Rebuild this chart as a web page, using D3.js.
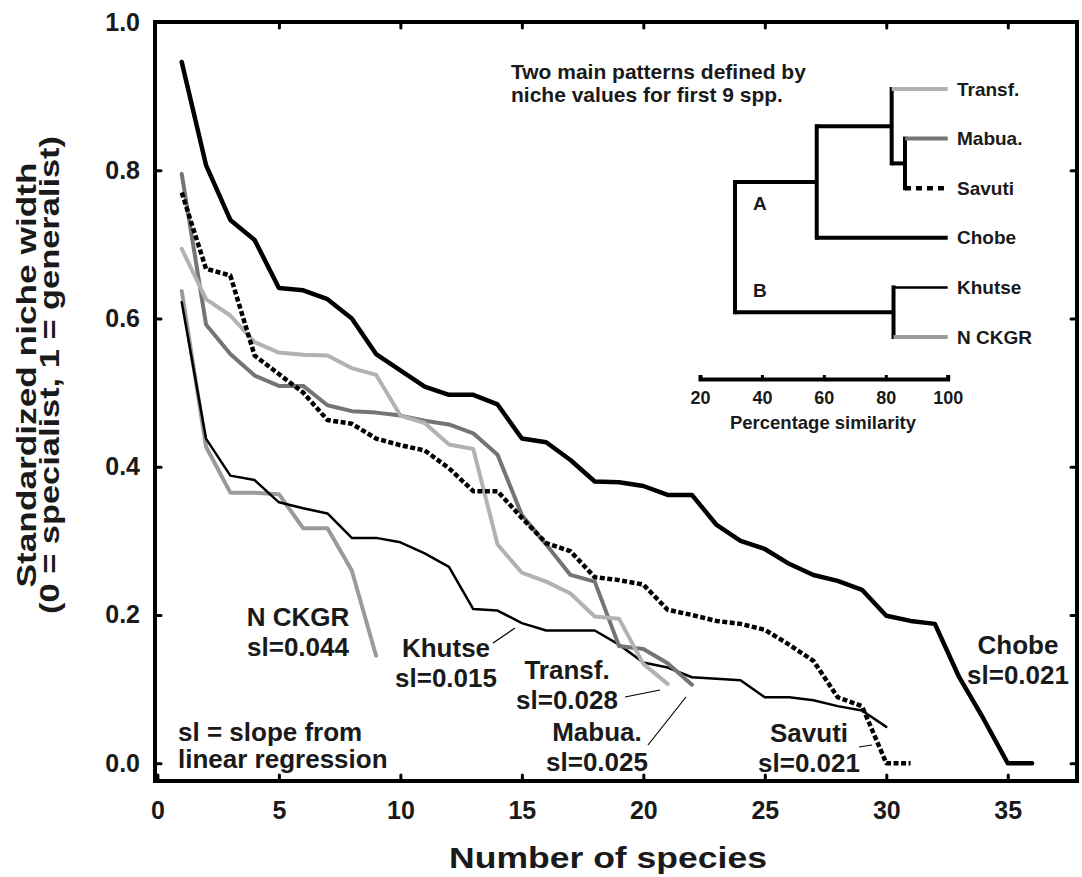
<!DOCTYPE html>
<html>
<head>
<meta charset="utf-8">
<script src="https://cdn.jsdelivr.net/npm/d3@7/dist/d3.min.js"></script>
<style>
body { margin: 0; background: #fff; }
text { font-family: "Liberation Sans", Arial, sans-serif; font-weight: bold; fill: #1a1a1a; }
</style>
</head>
<body>
<svg id="chart" width="1082" height="877"></svg>
<script>
// standardized niche width of species ranked 1..n, per site
var chobe  = [0.946,0.807,0.733,0.706,0.641,0.638,0.626,0.600,0.552,0.530,0.508,0.497,0.497,0.484,0.438,0.433,0.409,0.380,0.379,0.374,0.362,0.362,0.322,0.300,0.289,0.269,0.254,0.246,0.234,0.199,0.192,0.188,0.116,0.060,0.0,0.0];
var savuti = [0.770,0.667,0.658,0.550,0.525,0.500,0.463,0.458,0.438,0.429,0.422,0.398,0.367,0.367,0.331,0.297,0.286,0.251,0.247,0.241,0.207,0.200,0.192,0.188,0.180,0.160,0.138,0.089,0.077,0.0,0.0];
var mabua  = [0.795,0.592,0.552,0.523,0.509,0.509,0.483,0.475,0.473,0.469,0.462,0.457,0.445,0.416,0.335,0.295,0.254,0.245,0.158,0.154,0.135,0.106];
var transf = [0.694,0.626,0.604,0.568,0.554,0.551,0.550,0.533,0.524,0.469,0.459,0.430,0.424,0.295,0.257,0.245,0.229,0.198,0.195,0.134,0.107];
var khutse = [0.622,0.438,0.388,0.382,0.352,0.344,0.337,0.304,0.304,0.298,0.283,0.265,0.208,0.206,0.189,0.179,0.179,0.179,0.160,0.136,0.129,0.116,0.114,0.112,0.089,0.089,0.085,0.077,0.071,0.049];
var nckgr  = [0.637,0.427,0.365,0.365,0.363,0.317,0.317,0.260,0.145];

var xTicks = [0,5,10,15,20,25,30,35];
var yTicks = [0,0.2,0.4,0.6,0.8,1.0];

// dendrogram: leaf order and percentage similarity at each join
var leafNames = ["Transf.","Mabua.","Savuti","Chobe","Khutse","N CKGR"];
var simTicks = [20,40,60,80,100];
var cluster = {sim: 31.3, children: [
  {sim: 57.7, children: [
    {sim: 81.9, children: [
      {name: "Transf."},
      {sim: 86.2, children: [{name: "Mabua."}, {name: "Savuti"}]}
    ]},
    {name: "Chobe"}
  ]},
  {sim: 82.5, children: [{name: "Khutse"}, {name: "N CKGR"}]}
]};

var svg = d3.select('#chart');
var x = d3.scaleLinear().domain([-0.1, 37.85]).range([155, 1077]);
var y = d3.scaleLinear().domain([-0.024, 1.0]).range([781, 22]);

// ticks on all four sides, pointing in
function styleAxis(g){
  g.select(".domain").remove();
  g.selectAll(".tick line").attr("stroke", "#000").attr("stroke-width", 3).attr("stroke-linecap", "round");
  g.selectAll(".tick text").attr("font-size", 25).attr("fill", "#1a1a1a");
}
svg.append("g").attr("transform", "translate(0,781)")
  .call(d3.axisBottom(x).tickValues(xTicks).tickSize(-6).tickPadding(20).tickFormat(d3.format("d")))
  .call(styleAxis);
svg.append("g").attr("transform", "translate(0,22)")
  .call(d3.axisTop(x).tickValues(xTicks.slice(1)).tickSize(-6).tickFormat(""))
  .call(styleAxis);
svg.append("g").attr("transform", "translate(155,0)")
  .call(d3.axisLeft(y).tickValues(yTicks).tickSize(-6).tickPadding(15).tickFormat(d3.format(".1f")))
  .call(styleAxis);
svg.append("g").attr("transform", "translate(1077,0)")
  .call(d3.axisRight(y).tickValues(yTicks.slice(0, 5)).tickSize(-6).tickFormat(""))
  .call(styleAxis);

svg.append("rect").attr("x", 155).attr("y", 22).attr("width", 922).attr("height", 759)
  .attr("fill", "none").attr("stroke", "#000").attr("stroke-width", 4);

// axis titles
svg.append("text").attr("x", 608).attr("y", 857).attr("dy", "0.35em")
  .attr("text-anchor", "middle").attr("font-size", 30)
  .attr("textLength", 318).attr("lengthAdjust", "spacingAndGlyphs")
  .text("Number of species");
var yt = svg.append("g").attr("transform", "translate(0,375) rotate(-90)");
yt.append("text").attr("x", 0).attr("y", 27).attr("dy", "0.35em").attr("text-anchor", "middle")
  .attr("font-size", 27).attr("textLength", 425).attr("lengthAdjust", "spacingAndGlyphs")
  .text("Standardized niche width");
yt.append("text").attr("x", 0).attr("y", 50).attr("dy", "0.35em").attr("text-anchor", "middle")
  .attr("font-size", 27).attr("textLength", 478).attr("lengthAdjust", "spacingAndGlyphs")
  .text("(0 = specialist, 1 = generalist)");

// the curves
var line = d3.line().x(function(d, i){ return x(i + 1); }).y(function(d){ return y(d); });
var series = [
  {values: nckgr,  stroke: "#9a9a9a", width: 4},
  {values: khutse, stroke: "#000",    width: 2.5},
  {values: mabua,  stroke: "#747474", width: 4},
  {values: transf, stroke: "#b2b2b2", width: 4},
  {values: savuti, stroke: "#000",    width: 4.5, dash: "5,2.5"},
  {values: chobe,  stroke: "#000",    width: 4.5}
];
svg.selectAll(".curve").data(series).enter().append("path")
  .attr("class", "curve")
  .attr("d", function(d){ return line(d.values); })
  .attr("fill", "none")
  .attr("stroke", function(d){ return d.stroke; })
  .attr("stroke-width", function(d){ return d.width; })
  .attr("stroke-dasharray", function(d){ return d.dash || null; })
  .attr("stroke-linejoin", "round")
  .attr("stroke-linecap", function(d){ return d.dash ? "butt" : "round"; });

// curve labels
var labels = [
  {t: ["N CKGR", "sl=0.044"], x: 298, y: 617},
  {t: ["Khutse", "sl=0.015"], x: 446, y: 648},
  {t: ["Transf.", "sl=0.028"], x: 567, y: 670},
  {t: ["Mabua.", "sl=0.025"], x: 597, y: 732},
  {t: ["Savuti", "sl=0.021"], x: 809, y: 733},
  {t: ["Chobe", "sl=0.021"], x: 1018, y: 645}
];
labels.forEach(function(l){
  var tx = svg.append("text").attr("text-anchor", "middle").attr("font-size", 26);
  l.t.forEach(function(s, i){
    tx.append("tspan").attr("x", l.x).attr("y", l.y + i * 29.5).attr("dy", "0.35em").text(s);
  });
});
var leaders = [
  [[493,643],[515,628]],
  [[625,697],[660,690]],
  [[648,745],[686,697]],
  [[859,747],[872,745]]
];
svg.selectAll(".leader").data(leaders).enter().append("line")
  .attr("x1", function(d){ return d[0][0]; }).attr("y1", function(d){ return d[0][1]; })
  .attr("x2", function(d){ return d[1][0]; }).attr("y2", function(d){ return d[1][1]; })
  .attr("stroke", "#000").attr("stroke-width", 1.2);

var note = svg.append("text").attr("font-size", 26);
note.append("tspan").attr("x", 178).attr("y", 732).attr("dy", "0.35em").text("sl = slope from");
note.append("tspan").attr("x", 178).attr("y", 759).attr("dy", "0.35em").text("linear regression");

// inset dendrogram
var inset = svg.append("g");
var title = inset.append("text").attr("font-size", 21);
title.append("tspan").attr("x", 511).attr("y", 72).attr("dy", "0.35em").text("Two main patterns defined by");
title.append("tspan").attr("x", 511).attr("y", 95).attr("dy", "0.35em").text("niche values for first 9 spp.");

var sx = d3.scaleLinear().domain([20, 100]).range([700, 947.7]);
var ly = d3.scalePoint().domain(leafNames).range([89, 337]);
var root = d3.hierarchy(cluster);
root.eachAfter(function(n){
  if (n.children) n.py = d3.mean(n.children, function(c){ return c.py; });
  else n.py = ly(n.data.name);
  n.px = sx(n.children ? n.data.sim : 100);
});
var leafStyle = {
  "Transf.": {stroke: "#b2b2b2", width: 4},
  "Mabua.":  {stroke: "#747474", width: 4},
  "Savuti":  {stroke: "#000", width: 4.5, dash: "6,5"},
  "Chobe":   {stroke: "#000", width: 4},
  "Khutse":  {stroke: "#000", width: 2.5},
  "N CKGR":  {stroke: "#9a9a9a", width: 4}
};
root.descendants().forEach(function(n){
  if (n.parent) {
    var st = n.children ? {stroke: "#000", width: 4} : leafStyle[n.data.name];
    inset.append("line").attr("x1", n.parent.px).attr("x2", n.px).attr("y1", n.py).attr("y2", n.py)
      .attr("stroke", st.stroke).attr("stroke-width", st.width)
      .attr("stroke-dasharray", st.dash || null);
  }
  if (n.children) {
    var ys = n.children.map(function(c){ return c.py; });
    inset.append("line").attr("x1", n.px).attr("x2", n.px)
      .attr("y1", d3.min(ys) - 2).attr("y2", d3.max(ys) + 2)
      .attr("stroke", "#000").attr("stroke-width", 4);
  }
});
root.leaves().forEach(function(n){
  inset.append("text").attr("x", 957).attr("y", n.py).attr("dy", "0.35em")
    .attr("font-size", 19).text(n.data.name);
});
inset.append("text").attr("x", 753).attr("y", 203).attr("dy", "0.35em").attr("font-size", 19).attr("fill", "#333").text("A");
inset.append("text").attr("x", 753).attr("y", 290).attr("dy", "0.35em").attr("font-size", 19).attr("fill", "#333").text("B");

var simAxis = inset.append("g").attr("transform", "translate(0,379)")
  .call(d3.axisBottom(sx).tickValues(simTicks).tickSize(-4).tickPadding(12));
simAxis.select(".domain").attr("stroke", "#000").attr("stroke-width", 4);
simAxis.selectAll(".tick line").attr("stroke", "#000").attr("stroke-width", 3);
simAxis.selectAll(".tick text").attr("font-size", 18).attr("fill", "#1a1a1a");
inset.append("text").attr("x", 823).attr("y", 423).attr("dy", "0.35em").attr("text-anchor", "middle")
  .attr("font-size", 18.5).text("Percentage similarity");
</script>
</body>
</html>
